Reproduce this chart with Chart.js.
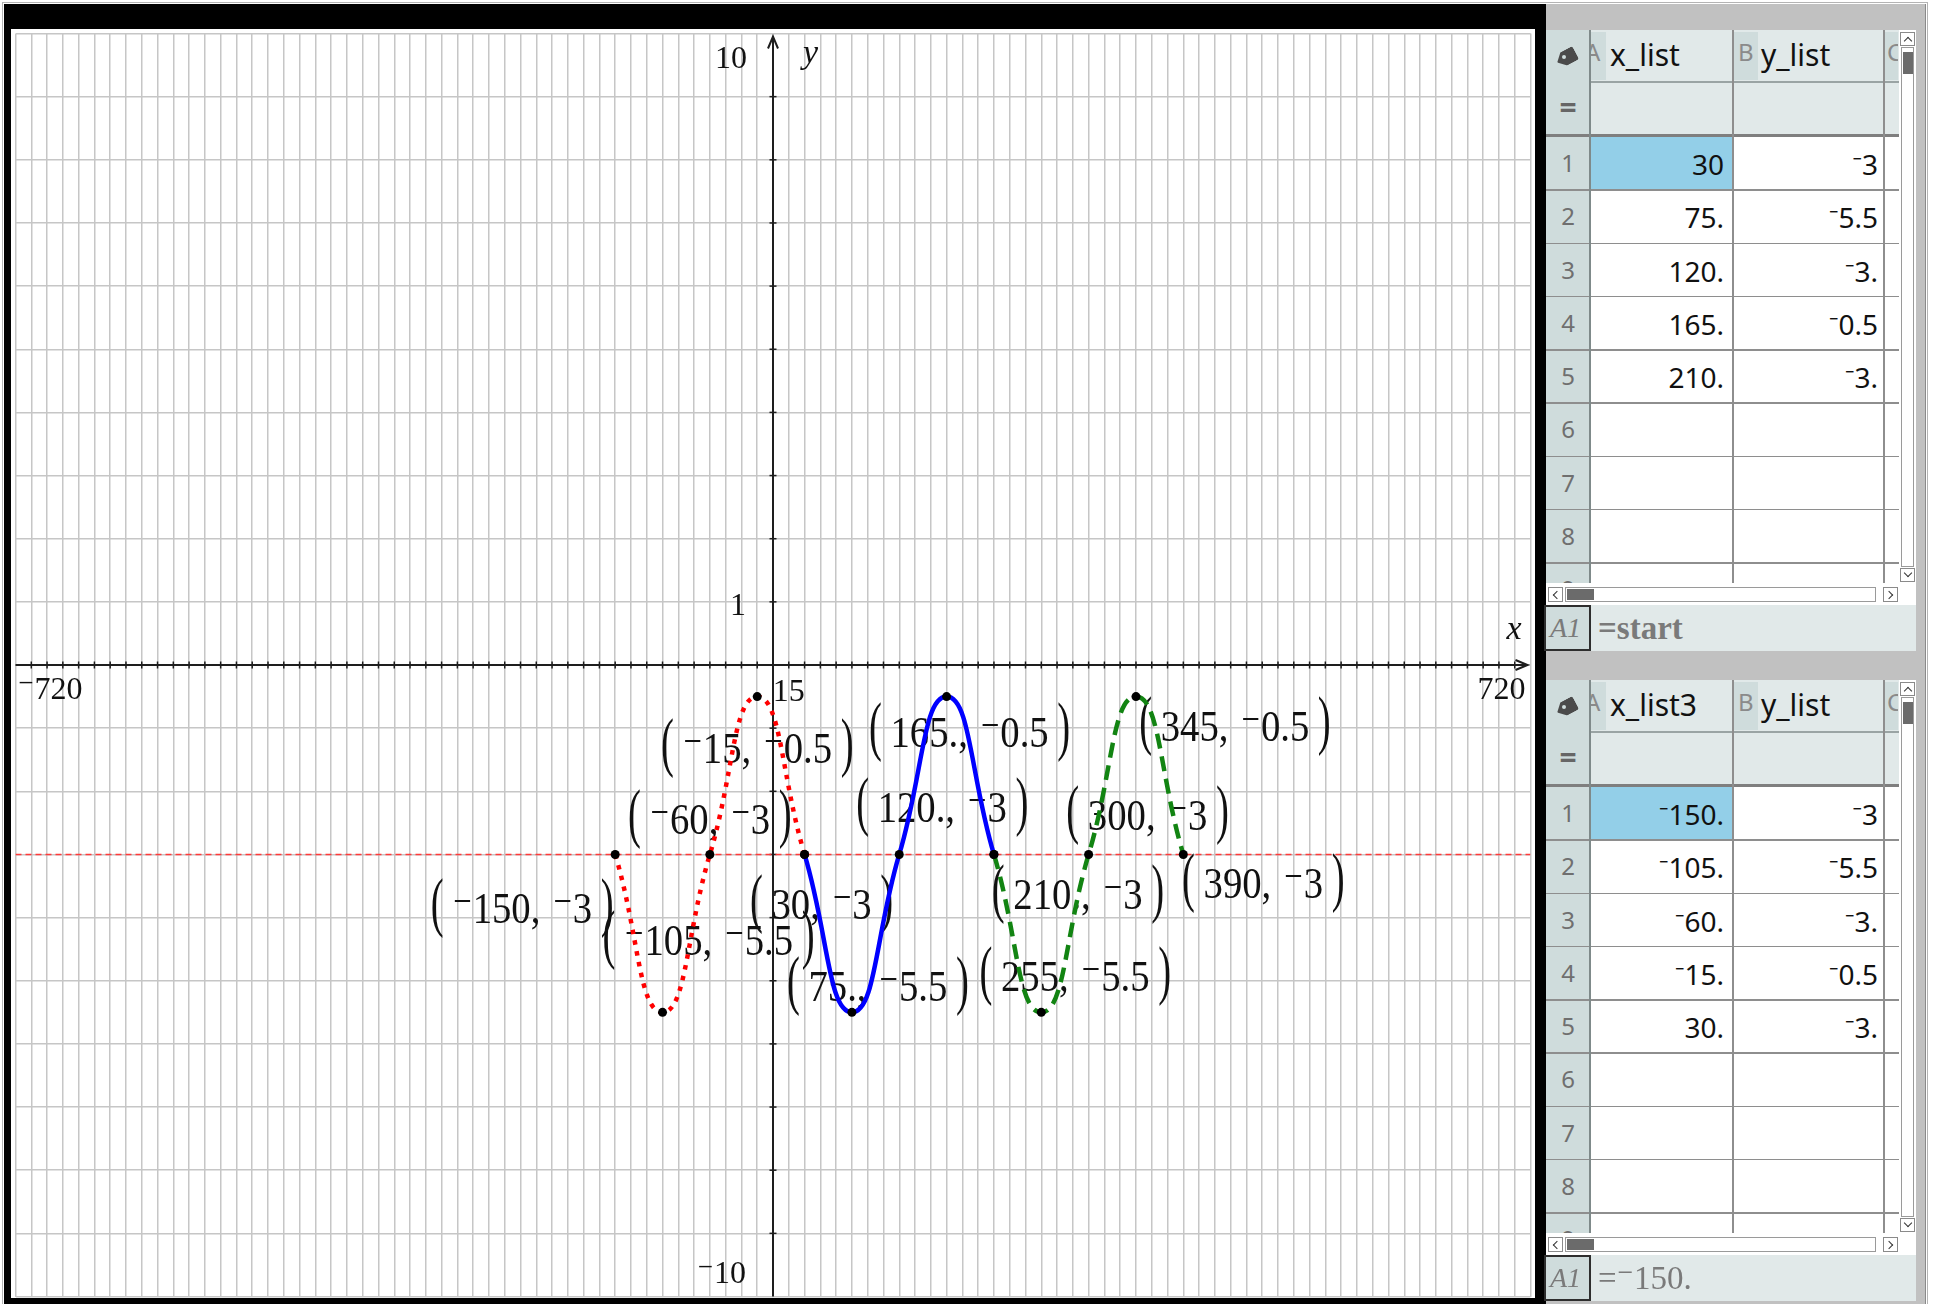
<!DOCTYPE html>
<html>
<head>
<meta charset="utf-8">
<script src="https://cdn.jsdelivr.net/npm/chart.js@4.4.1/dist/chart.umd.min.js"></script>
<style>
html,body{margin:0;padding:0;background:#fff;}
body{width:1936px;height:1304px;position:relative;overflow:hidden;font-family:"Noto Sans",sans-serif;}
.abs{position:absolute;box-sizing:border-box;}
#plot{position:absolute;left:11px;top:29px;width:1524px;height:1272px;background:#fff;}
</style>
</head>
<body>
<div class="abs" style="left:2px;top:2px;width:1926px;height:1304px;border:1px solid #b4b4b4;border-bottom:none;"></div>
<div class="abs" style="left:4px;top:4px;width:1542px;height:1300px;background:#000;"></div>
<canvas id="plot" width="1524" height="1272"></canvas>
<div class="abs" style="left:4px;top:1298px;width:1542px;height:6px;background:#000;"></div>
<div class="abs" id="panel" style="left:1546px;top:4px;width:380px;height:1300px;background:#c1c1c1;border-right:1px solid #8a8a8a;"></div>
<script>
// ---------------- data ----------------
const xAxisMin = -720, xAxisMax = 720;
const yAxisMin = -10, yAxisMax = 10;
const xGridStep = 15, yGridStep = 1;
const xList3 = [-150, -105, -60, -15, 30];   // red dotted
const xList  = [30, 75, 120, 165, 210];      // blue solid
const xList2 = [210, 255, 300, 345, 390];    // green dashed
const yList  = [-3, -5.5, -3, -0.5, -3];
const startLineY = -3;
const xTickLabelValues = [-720, 720, 15];
const yTickLabelValues = [10, 1, -10];
const redLabels   = ["⁻150, ⁻3", "⁻105, ⁻5.5", "⁻60, ⁻3", "⁻15, ⁻0.5", "30, ⁻3"];
const blueLabels  = [null, "75., ⁻5.5", "120., ⁻3", "165., ⁻0.5", "210., ⁻3"];
const greenLabels = [null, "255, ⁻5.5", "300, ⁻3", "345, ⁻0.5", "390, ⁻3"];
// spreadsheet contents
const sheet1ColA = "x_list", sheet1ColB = "y_list";
const sheet1A = ["30", "75.", "120.", "165.", "210."];
const sheet1B = ["⁻3", "⁻5.5", "⁻3.", "⁻0.5", "⁻3."];
const sheet1Formula = "=start";
const sheet2ColA = "x_list3", sheet2ColB = "y_list";
const sheet2A = ["⁻150.", "⁻105.", "⁻60.", "⁻15.", "30."];
const sheet2B = ["⁻3", "⁻5.5", "⁻3.", "⁻0.5", "⁻3."];
const sheet2Formula = "=⁻150.";
const rowNumbers = [1, 2, 3, 4, 5, 6, 7, 8, 9];

// ---------------- layout (label centre offsets from their points, px) ----------------
const redOffsets   = [[-93, 53], [46, -73], [0, -36], [0, 51], [17, 49]];
const blueOffsets  = [null, [26, -27], [43, -48], [23, 35], [84, 39]];
const greenOffsets = [null, [34, -37], [59, -40], [99, 29], [80, 28]];

const fmt = v => (v < 0 ? "⁻" + Math.abs(v) : String(v));
const SERIF = '"Liberation Serif","DejaVu Serif",serif';

// ---------------- spreadsheet panel ----------------
function box(l, t, w, h, css, text) {
  const d = document.createElement('div');
  d.className = 'abs';
  d.style.cssText = `left:${l}px;top:${t}px;width:${w}px;height:${h}px;` + (css || '');
  if (text != null) d.textContent = text;
  document.body.appendChild(d);
  return d;
}
function chevron(cx, cy, dir) {
  const rot = {up: 225, down: 45, left: 135, right: -45}[dir];
  box(cx - 3, cy - 3, 6, 6, `border-right:1.5px solid #333;border-bottom:1.5px solid #333;transform:rotate(${rot}deg);`);
}
function buildSheet(T, colA, colB, aVals, bVals, formula, boldFormula) {
  const X0 = 1546, XA = 1590, XB = 1733, XC = 1884, XCe = 1899, XS = 1916;
  const HDR = 52, EQ = 52, THK = 3, ROWH = 53.25, ROWS = 446;
  const R0 = T + HDR + EQ + THK;
  box(X0, T, XS - X0, HDR + EQ, 'background:#e1e9e9;');
  box(X0, T, XA - X0, HDR + EQ, 'background:#cfdcdc;');
  // tag icon
  box(1556, T + 20, 21, 15, 'background:#4b4b4b;clip-path:polygon(0 50%,36% 0,100% 0,100% 100%,36% 100%);transform:rotate(-28deg);border-radius:3px;');
  box(1562, T + 25, 4, 4, 'background:#cfdcdc;border-radius:50%;');
  // column letters
  const la = box(XA, T + 2, 16, HDR - 4, 'background:#cfdcdc;overflow:hidden;');
  const sa = document.createElement('div'); sa.className = 'abs';
  sa.style.cssText = 'left:-5px;top:0;line-height:40px;font-size:24px;color:#8a8a8a;'; sa.textContent = 'A'; la.appendChild(sa);
  box(XB, T + 2, 25, HDR - 4, 'background:#cfdcdc;font-size:24px;line-height:40px;color:#8a8a8a;padding-left:5px;', 'B');
  const lc = box(XC, T + 2, 14, HDR - 4, 'background:#cfdcdc;overflow:hidden;');
  const sc = document.createElement('div'); sc.className = 'abs';
  sc.style.cssText = 'left:3px;top:0;line-height:40px;font-size:24px;color:#8a8a8a;'; sc.textContent = 'C'; lc.appendChild(sc);
  box(XA + 20, T, 120, HDR, 'font-size:30px;line-height:50px;color:#111;', colA);
  box(XB + 28, T, 120, HDR, 'font-size:30px;line-height:50px;color:#111;', colB);
  box(X0, T + HDR, XA - X0, EQ, 'font-size:30px;font-weight:bold;line-height:50px;color:#666;text-align:center;', '=');
  // rows area
  box(X0, R0, XCe - X0, ROWS, 'background:#fff;');
  box(X0, R0, XA - X0, ROWS, 'background:#cfdcdc;');
  box(XA, R0, XB - XA, ROWH, 'background:#93cfe8;');
  for (let i = 0; i < rowNumbers.length; i++) {
    const top = R0 + i * ROWH;
    const h = Math.min(ROWH, R0 + ROWS - top);
    box(X0, top, XA - X0, h, 'font-size:24px;line-height:52px;color:#6f6f6f;text-align:center;overflow:hidden;', String(rowNumbers[i]));
    if (i < aVals.length) {
      box(XA, top, XB - XA, ROWH, 'font-size:28px;line-height:54px;color:#111;text-align:right;padding-right:9px;', aVals[i]);
      box(XB, top, XC - XB, ROWH, 'font-size:28px;line-height:54px;color:#111;text-align:right;padding-right:6px;', bVals[i]);
    }
    if (i >= 1) box(X0, top - 1, XCe - X0, 1.5, 'background:#8e8e8e;');
  }
  // header / thick lines
  box(XA, T + HDR - 1, XCe - XA, 1.5, 'background:#9aa4a4;');
  box(X0, T + HDR + EQ, XCe - X0, THK, 'background:#7f7f7f;');
  // vertical lines
  box(XA - 1, T, 2, HDR + EQ + THK + ROWS, 'background:#7f8a8a;');
  box(XB - 1, T, 1.5, HDR + EQ + THK + ROWS, 'background:#8e8e8e;');
  box(XC - 1, T, 1.5, HDR + EQ + THK + ROWS, 'background:#8e8e8e;');
  // vertical scrollbar
  box(1899, T, XS - 1899, HDR + EQ + THK + ROWS, 'background:#fff;');
  box(1900, T + 2, 15, 14, 'background:#fff;border:1px solid #8a8a8a;');
  chevron(1907.5, T + 11, 'up');
  box(1901, T + 17, 13, 520, 'background:#fff;border:1px solid #9a9a9a;');
  box(1903, T + 22, 10, 22, 'background:#6b6b6b;');
  box(1900, T + 538, 15, 14, 'background:#fff;border:1px solid #8a8a8a;');
  chevron(1907.5, T + 543, 'down');
  // horizontal scrollbar
  const HS = R0 + ROWS;
  box(X0, HS, XS - X0, 22, 'background:#fff;');
  box(1548, HS + 4, 15, 15, 'background:#fff;border:1px solid #8a8a8a;');
  chevron(1557, HS + 11.5, 'left');
  box(1565, HS + 4, 311, 15, 'background:#fff;border:1px solid #9a9a9a;');
  box(1567, HS + 6, 27, 11, 'background:#6b6b6b;');
  box(1883, HS + 4, 15, 15, 'background:#fff;border:1px solid #8a8a8a;');
  chevron(1889, HS + 11.5, 'right');
  // formula bar
  const FB = HS + 22;
  box(X0, FB, XS - X0, 46, 'background:#e1e9e9;');
  box(1544, FB, 47, 46, `background:#cfdcdc;border:2px solid #2e2e2e;font-family:${SERIF};font-style:italic;font-size:28px;line-height:42px;color:#7a7a7a;padding-left:4px;`, 'A1');
  box(1598, FB, 300, 46, `font-family:${SERIF};font-size:33px;line-height:46px;color:#7a7a7a;${boldFormula ? 'font-weight:bold;' : ''}`, formula);
}
buildSheet(30, sheet1ColA, sheet1ColB, sheet1A, sheet1B, sheet1Formula, true);
buildSheet(680, sheet2ColA, sheet2ColB, sheet2A, sheet2B, sheet2Formula, false);

// ---------------- graph ----------------
function coordLabel(ctx, cx, cy, inner) {
  const fs = 45, sx = 0.86, gap = 10, commaGap = 14;
  ctx.font = `${fs}px ${SERIF}`;
  ctx.textAlign = 'left';
  ctx.textBaseline = 'alphabetic';
  ctx.fillStyle = '#111';
  const parts = inner.split(', ');
  const a = parts[0] + ',', b = parts[1];
  const pw = ctx.measureText('(').width;
  const wa = ctx.measureText(a).width, wb = ctx.measureText(b).width;
  const total = 2 * pw + 2 * gap + wa + commaGap + wb;
  ctx.save();
  ctx.translate(cx - total * sx / 2, cy);
  ctx.scale(sx, 1);
  const paren = (ch, px) => {
    ctx.save(); ctx.translate(px, 0); ctx.scale(1, 1.45);
    ctx.fillText(ch, 0, 0.258 * fs); ctx.restore();
  };
  let xx = 0;
  paren('(', xx); xx += pw + gap;
  ctx.fillText(a, xx, 0.338 * fs); xx += wa + commaGap;
  ctx.fillText(b, xx, 0.338 * fs); xx += wb + gap;
  paren(')', xx);
  ctx.restore();
}
function plainLabel(ctx, text, x, cy, align, size, italic) {
  ctx.font = `${italic ? 'italic ' : ''}${size}px ${SERIF}`;
  ctx.textAlign = align;
  ctx.textBaseline = 'alphabetic';
  ctx.fillStyle = '#111';
  ctx.fillText(text, x, cy + (italic ? 0.22 : 0.338) * size);
}

const tiPlugin = {
  id: 'tiAxes',
  beforeDatasetsDraw(chart) {
    const ctx = chart.ctx, xs = chart.scales.x, ys = chart.scales.y;
    const ox = xs.getPixelForValue(0), oy = ys.getPixelForValue(0);
    const L = xs.getPixelForValue(xAxisMin), R = xs.getPixelForValue(xAxisMax);
    const Tp = ys.getPixelForValue(yAxisMax), B = ys.getPixelForValue(yAxisMin);
    ctx.save();
    ctx.strokeStyle = '#1e1e1e';
    ctx.lineWidth = 2;
    ctx.beginPath(); ctx.moveTo(L, oy); ctx.lineTo(R - 3, oy); ctx.stroke();
    ctx.beginPath(); ctx.moveTo(R - 15, oy - 5); ctx.lineTo(R - 3, oy); ctx.lineTo(R - 15, oy + 5); ctx.stroke();
    ctx.beginPath(); ctx.moveTo(ox, B); ctx.lineTo(ox, Tp + 3); ctx.stroke();
    ctx.beginPath(); ctx.moveTo(ox - 5, Tp + 15); ctx.lineTo(ox, Tp + 3); ctx.lineTo(ox + 5, Tp + 15); ctx.stroke();
    ctx.lineWidth = 1.5;
    xs.ticks.forEach(t => {
      if (t.value === xAxisMin || t.value === xAxisMax || t.value === 0) return;
      const p = xs.getPixelForValue(t.value);
      ctx.beginPath(); ctx.moveTo(p, oy - 3.5); ctx.lineTo(p, oy + 3.5); ctx.stroke();
    });
    ys.ticks.forEach(t => {
      if (t.value === yAxisMin || t.value === yAxisMax || t.value === 0) return;
      const p = ys.getPixelForValue(t.value);
      ctx.beginPath(); ctx.moveTo(ox - 3.5, p); ctx.lineTo(ox + 3.5, p); ctx.stroke();
    });
    // axis end / scale labels
    plainLabel(ctx, fmt(xTickLabelValues[0]), L + 2, oy + 23, 'left', 32);
    plainLabel(ctx, fmt(xTickLabelValues[1]), R - 5, oy + 23, 'right', 32);
    plainLabel(ctx, fmt(xTickLabelValues[2]), xs.getPixelForValue(xTickLabelValues[2]), oy + 25, 'center', 32);
    plainLabel(ctx, fmt(yTickLabelValues[0]), ox - 26, Tp + 24, 'right', 32);
    plainLabel(ctx, fmt(yTickLabelValues[1]), ox - 27, ys.getPixelForValue(yTickLabelValues[1]) + 2, 'right', 32);
    plainLabel(ctx, fmt(yTickLabelValues[2]), ox - 27, B - 24, 'right', 32);
    plainLabel(ctx, 'x', R - 9, oy - 33, 'right', 34, true);
    plainLabel(ctx, 'y', ox + 30, Tp + 22, 'left', 34, true);
    // coordinate labels
    const groups = [[xList3, redLabels, redOffsets], [xList, blueLabels, blueOffsets], [xList2, greenLabels, greenOffsets]];
    groups.forEach(([xsArr, labels, offs]) => {
      xsArr.forEach((xv, i) => {
        if (!labels[i]) return;
        const px = xs.getPixelForValue(xv), py = ys.getPixelForValue(yList[i]);
        coordLabel(ctx, px + offs[i][0], py + offs[i][1], labels[i]);
      });
    });
    ctx.restore();
  }
};

const toPts = arr => arr.map((x, i) => ({x, y: yList[i]}));
const pointStyle = {pointRadius: 4.5, pointBackgroundColor: '#000', pointBorderColor: '#000', pointBorderWidth: 0, pointHoverRadius: 4.5};
const gridOpts = {color: '#c6c6c6', lineWidth: 1.5, drawTicks: false};
new Chart(document.getElementById('plot'), {
  type: 'line',
  data: {
    datasets: [
      {label: 'start', data: [{x: xAxisMin, y: startLineY}, {x: xAxisMax, y: startLineY}],
       borderColor: '#ff3a3a', borderWidth: 1.6, borderDash: [6, 4], pointRadius: 0, order: 5},
      Object.assign({label: 'f1', data: toPts(xList3), borderColor: '#ff0000', borderWidth: 4.5,
       borderDash: [4.5, 6.5], tension: 0.5, order: 4}, pointStyle),
      Object.assign({label: 'f2', data: toPts(xList), borderColor: '#0000ff', borderWidth: 4.5,
       tension: 0.5, order: 3}, pointStyle),
      Object.assign({label: 'f3', data: toPts(xList2), borderColor: '#128412', borderWidth: 4.5,
       borderDash: [15, 8], tension: 0.5, order: 2}, pointStyle)
    ]
  },
  options: {
    responsive: false, animation: false, devicePixelRatio: 1, events: [],
    layout: {padding: 0},
    plugins: {legend: {display: false}, tooltip: {enabled: false}},
    scales: {
      x: {type: 'linear', min: xAxisMin, max: xAxisMax, ticks: {display: false, stepSize: xGridStep},
          grid: gridOpts, border: {display: false}},
      y: {type: 'linear', min: yAxisMin, max: yAxisMax, ticks: {display: false, stepSize: yGridStep},
          grid: gridOpts, border: {display: false}}
    }
  },
  plugins: [tiPlugin]
});
</script>
</body>
</html>
